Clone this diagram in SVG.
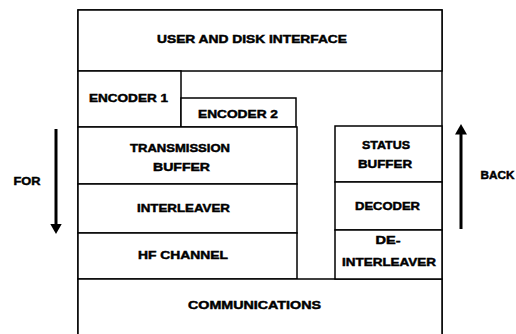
<svg xmlns="http://www.w3.org/2000/svg" width="516" height="334" viewBox="0 0 516 334">
<defs>
<style>
.box{fill:#fff;stroke:#000;stroke-width:1.5}
.t{font-family:"Liberation Sans",Arial,sans-serif;font-weight:bold;font-size:11px;fill:#000;stroke:#000;stroke-width:0.45;text-anchor:middle}
.shaft{stroke:#000;stroke-width:3;fill:none}
</style>
<marker id="ah" markerWidth="4" markerHeight="4" refX="0.5" refY="2" orient="auto" markerUnits="strokeWidth">
<path d="M0,0 L3.5,2 L0,4 Z" fill="#000"/>
</marker>
</defs>
<rect width="516" height="334" fill="#fff"/>
<g id="outer">
<path d="M78,340 L78,10 L442,10 L442,340" class="box" fill="none"/>
</g>
<g id="user-disk-interface">
<rect class="box" x="78" y="10" width="364" height="61"/>
<text class="t" x="252" y="43" textLength="190" lengthAdjust="spacingAndGlyphs">USER AND DISK INTERFACE</text>
</g>
<g id="encoder1">
<rect class="box" x="78" y="71" width="103" height="56"/>
<text class="t" x="128.5" y="102" textLength="79" lengthAdjust="spacingAndGlyphs">ENCODER 1</text>
</g>
<g id="encoder2">
<rect class="box" x="181" y="98" width="115" height="29"/>
<text class="t" x="238" y="117.5" textLength="80" lengthAdjust="spacingAndGlyphs">ENCODER 2</text>
</g>
<g id="transmission-buffer">
<rect class="box" x="78" y="127" width="219" height="57"/>
<text class="t" x="180" y="152" textLength="100" lengthAdjust="spacingAndGlyphs">TRANSMISSION</text>
<text class="t" x="181.5" y="171" textLength="57" lengthAdjust="spacingAndGlyphs">BUFFER</text>
</g>
<g id="interleaver">
<rect class="box" x="78" y="184" width="219" height="49"/>
<text class="t" x="183.5" y="212" textLength="93" lengthAdjust="spacingAndGlyphs">INTERLEAVER</text>
</g>
<g id="hf-channel">
<rect class="box" x="78" y="233" width="219" height="46"/>
<text class="t" x="183" y="259" textLength="90" lengthAdjust="spacingAndGlyphs">HF CHANNEL</text>
</g>
<g id="communications">
<path class="box" d="M78,340 L78,279 L442,279 L442,340" fill="none"/>
<text class="t" x="254.5" y="309" textLength="133" lengthAdjust="spacingAndGlyphs">COMMUNICATIONS</text>
</g>
<g id="status-buffer">
<rect class="box" x="335" y="126" width="107" height="56"/>
<text class="t" x="386" y="149" textLength="48" lengthAdjust="spacingAndGlyphs">STATUS</text>
<text class="t" x="385" y="168" textLength="54" lengthAdjust="spacingAndGlyphs">BUFFER</text>
</g>
<g id="decoder">
<rect class="box" x="335" y="182" width="107" height="48"/>
<text class="t" x="387.5" y="210" textLength="65" lengthAdjust="spacingAndGlyphs">DECODER</text>
</g>
<g id="de-interleaver">
<rect class="box" x="335" y="230" width="107" height="49"/>
<text class="t" x="388" y="244" textLength="25" lengthAdjust="spacingAndGlyphs">DE-</text>
<text class="t" x="389" y="266" textLength="94" lengthAdjust="spacingAndGlyphs">INTERLEAVER</text>
</g>
<g id="labels">
<text class="t" x="27" y="185" textLength="27" lengthAdjust="spacingAndGlyphs">FOR</text>
<text class="t" x="497.5" y="179" textLength="34" lengthAdjust="spacingAndGlyphs">BACK</text>
</g>
<g id="connectors">
<line class="shaft" x1="56" y1="129" x2="56" y2="225" marker-end="url(#ah)"/>
<line class="shaft" x1="461" y1="229" x2="461" y2="133" marker-end="url(#ah)"/>
</g>
</svg>
